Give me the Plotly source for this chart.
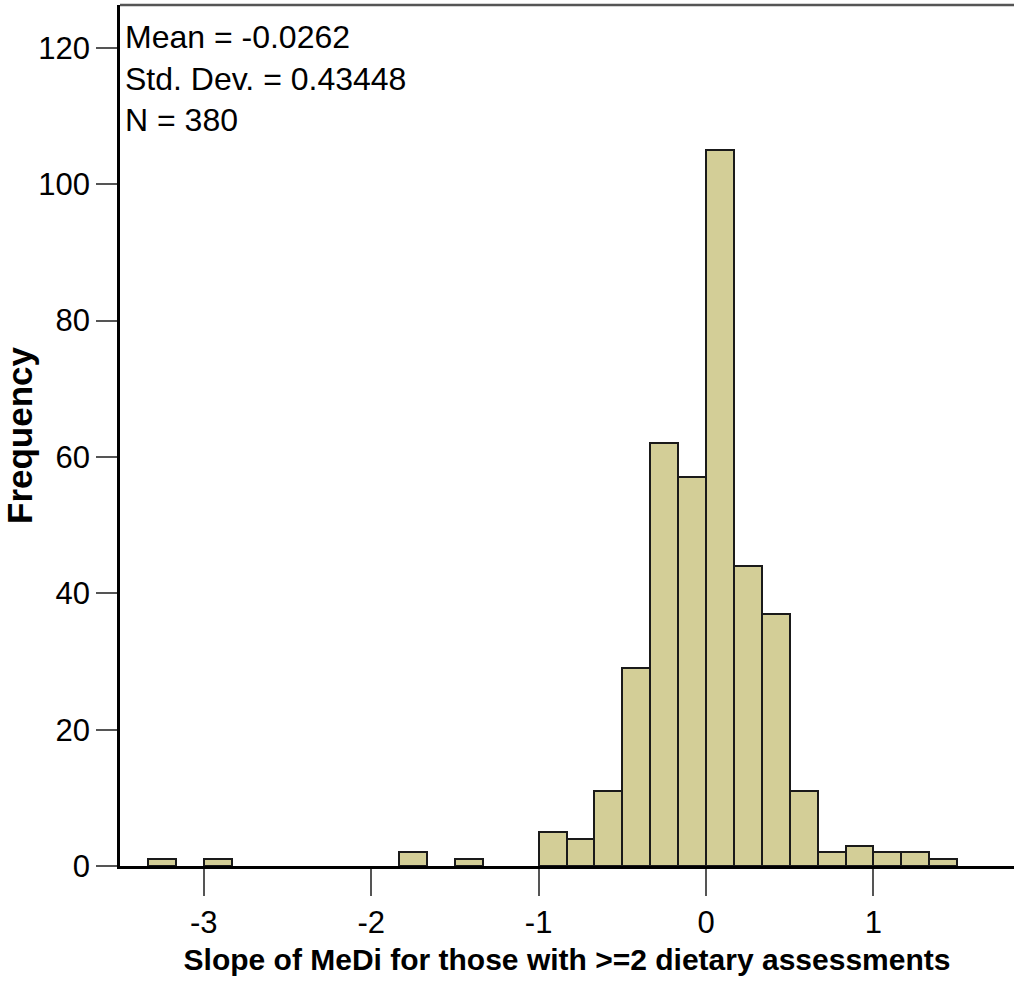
import plotly.graph_objects as go

# Histogram of slopes: bin left edges (width 1/6) and counts
bin_width = 1 / 6
bin_left_edges = [-20/6, -18/6, -11/6, -9/6, -6/6, -5/6, -4/6, -3/6, -2/6, -1/6,
                  0/6, 1/6, 2/6, 3/6, 4/6, 5/6, 6/6, 7/6, 8/6]
counts = [1, 1, 2, 1, 5, 4, 11, 29, 62, 57, 105, 44, 37, 11, 2, 3, 2, 2, 1]

x_ticks = [-3, -2, -1, 0, 1]
x_tick_labels = ["-3", "-2", "-1", "0", "1"]
y_ticks = [0, 20, 40, 60, 80, 100, 120]

stats_lines = ["Mean = -0.0262", "Std. Dev. = 0.43448", "N = 380"]

centers = [e + bin_width / 2 for e in bin_left_edges]

fig = go.Figure()
fig.add_trace(go.Bar(
    x=centers, y=counts, width=[bin_width] * len(counts),
    marker=dict(color="#D3CE97", line=dict(color="#1a1a1a", width=2)),
    hoverinfo="x+y",
))

font = "Liberation Sans, Arial, sans-serif"
fig.update_layout(
    width=1014, height=982,
    margin=dict(l=117, r=0, t=5, b=116),
    plot_bgcolor="white", paper_bgcolor="white",
    showlegend=False, bargap=0,
    font=dict(family=font, size=31, color="black"),
    xaxis=dict(
        range=[-3.5, (1014 - 705) / 168], tickvals=x_ticks, ticktext=x_tick_labels,
        ticks="outside", ticklen=27, tickwidth=2, tickcolor="#555",
        showline=True, linecolor="black", linewidth=2.5,
        showgrid=False, zeroline=False,
        tickfont=dict(size=31),
        title=dict(text="<b>Slope of MeDi for those with >=2 dietary assessments</b>",
                   font=dict(size=30), standoff=11),
    ),
    yaxis=dict(
        range=[0, 126.3], tickvals=y_ticks,
        ticks="outside", ticklen=21, tickwidth=2, tickcolor="#555",
        showline=True, linecolor="black", linewidth=2.5,
        showgrid=False, zeroline=False,
        tickfont=dict(size=31),
        title=dict(text="<b>Frequency</b>", font=dict(size=35), standoff=14),
    ),
)

# Top frame line
fig.add_shape(type="line", xref="paper", yref="paper", x0=0, x1=1, y0=1, y1=1,
              line=dict(color="#555", width=2.5))

# Summary statistics text
fig.add_annotation(
    xref="paper", yref="paper", x=0.003, y=0.9865, xanchor="left", yanchor="top",
    text="<br>".join(stats_lines), showarrow=False, align="left",
    font=dict(size=32, family=font, color="black"),
)

fig.write_html("out.html")
